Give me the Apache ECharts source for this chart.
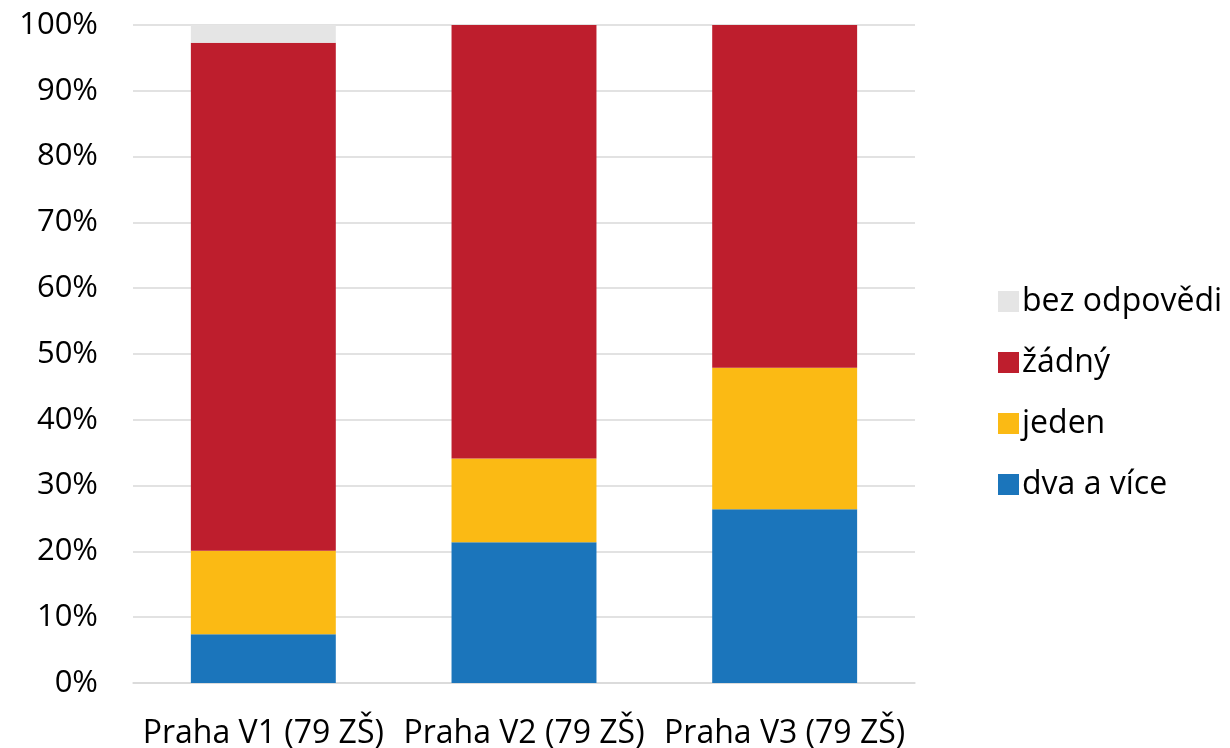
<!DOCTYPE html>
<html>
<head>
<meta charset="utf-8">
<script src="https://cdn.jsdelivr.net/npm/echarts@6/dist/echarts.min.js"></script>
<style>
  html, body { margin: 0; padding: 0; background: #fff; }
  #chart { width: 1230px; height: 748px; }
</style>
</head>
<body>
<div id="chart"></div>
<script>
const categories = ["Praha V1 (79 ZŠ)", "Praha V2 (79 ZŠ)", "Praha V3 (79 ZŠ)"];
const dvaAVice = [7.4, 21.4, 26.4];
const jeden = [12.7, 12.7, 21.5];
const zadny = [77.2, 65.9, 52.1];
const bezOdpovedi = [2.7, 0, 0];
const yTicks = [0, 10, 20, 30, 40, 50, 60, 70, 80, 90, 100];

const font = "'Open Sans', sans-serif";

function bar(name, data, color) {
  return {
    name: name,
    type: "bar",
    stack: "total",
    data: data,
    barWidth: "55.6%",
    itemStyle: { color: color },
    emphasis: { disabled: true }
  };
}

const chart = echarts.init(document.getElementById("chart"));
chart.setOption({
  animation: false,
  textStyle: { fontFamily: font },
  grid: { left: 133, right: 315, top: 25, bottom: 65, outerBoundsMode: "none" },
  legend: {
    orient: "vertical",
    left: 993,
    top: 279,
    itemWidth: 21,
    itemHeight: 21,
    itemGap: 26,
    icon: "rect",
    data: ["bez odpovědi", "žádný", "jeden", "dva a více"],
    textStyle: { fontSize: 32, lineHeight: 35, color: "#000", fontFamily: font, padding: [0, 0, 0, -2] }
  },
  xAxis: {
    type: "category",
    data: categories,
    axisTick: { show: false },
    axisLine: { lineStyle: { color: "#d9d9d9", width: 1.5 } },
    axisLabel: { fontSize: 32, color: "#000", margin: 35, fontFamily: font, interval: 0 }
  },
  yAxis: {
    type: "value",
    min: yTicks[0],
    max: yTicks[yTicks.length - 1],
    interval: 10,
    axisLine: { show: false },
    axisTick: { show: false },
    splitLine: { lineStyle: { color: "#d9d9d9", width: 1.5 } },
    axisLabel: { fontSize: 31, color: "#000", margin: 35, fontFamily: font, formatter: "{value}%" }
  },
  series: [
    bar("dva a více", dvaAVice, "#1b75bb"),
    bar("jeden", jeden, "#fbba14"),
    bar("žádný", zadny, "#be1e2d"),
    bar("bez odpovědi", bezOdpovedi, "#e5e5e5")
  ]
});
</script>
</body>
</html>
